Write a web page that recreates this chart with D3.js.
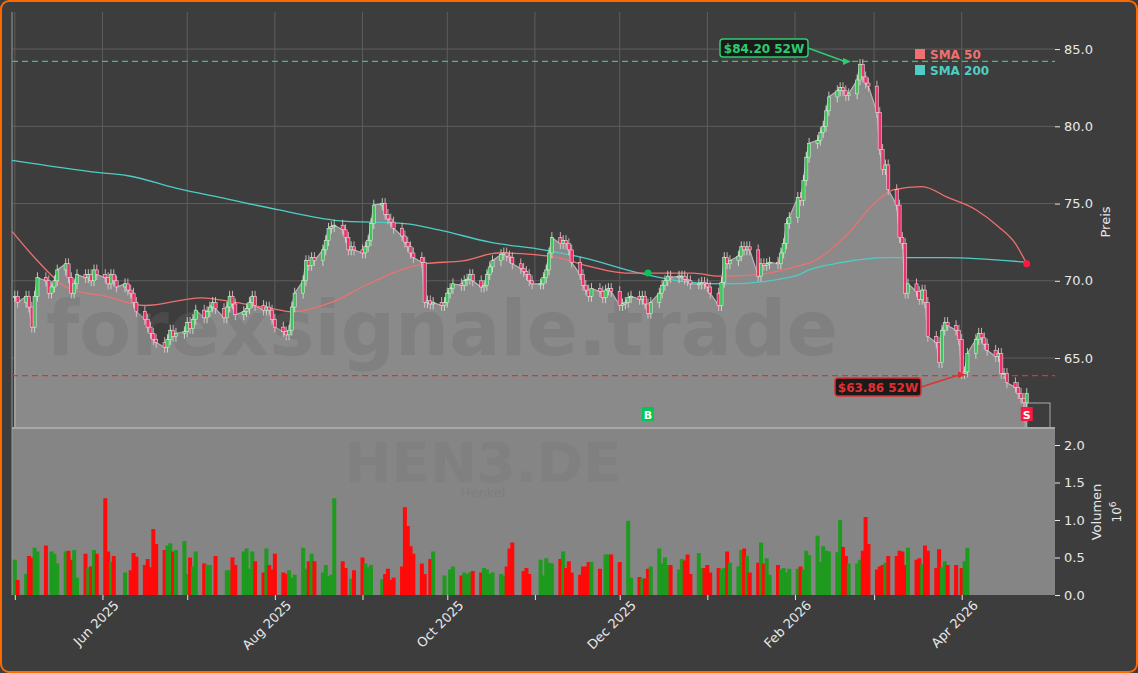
<!DOCTYPE html>
<html><head><meta charset="utf-8">
<script src="https://cdn.jsdelivr.net/npm/d3@7"></script>
<style>body{margin:0;background:#3c3c3c;font-family:"DejaVu Sans",sans-serif}</style>
</head><body><svg id="c" width="1138" height="673"></svg>
<script>
// daily closes, May 2025 .. Apr 2026 (one line per month)
var closes = [
  69.0,68.6,69.0,68.3,67.0,69.0,70.2,70.0,69.2,69.6,70.0,70.7,71.1,70.2,69.2,69.8,70.4,70.2,70.4,70.0,70.7,70.4,
  70.2,69.8,70.4,70.0,69.6,69.8,69.4,69.2,68.6,68.0,67.5,67.0,66.6,66.2,66.0,65.7,66.2,66.8,66.4,66.6,66.7,
  67.3,66.9,67.5,68.1,67.6,68.0,68.3,68.6,68.2,67.6,68.3,69.0,68.5,67.8,68.0,68.2,68.6,69.0,68.4,68.1,68.3,68.1,67.5,
  67.0,66.7,66.5,66.8,68.3,69.2,70.0,71.3,71.0,71.5,71.3,72.0,72.6,73.4,73.5,73.6,73.3,72.8,72.0,72.2,72.0,
  71.8,72.2,72.6,73.7,74.9,75.0,74.3,74.0,73.8,73.4,72.9,72.5,72.2,71.8,71.5,71.2,68.6,68.7,68.5,68.6,68.4,68.6,
  69.2,69.5,69.8,69.7,70.0,70.1,70.4,70.0,69.6,69.7,70.4,70.9,71.3,71.7,71.8,71.6,71.5,71.1,70.8,70.6,70.4,70.0,69.8,
  69.8,70.2,70.7,71.8,72.8,72.4,72.6,72.4,72.0,71.2,70.4,69.7,69.4,69.0,69.5,69.3,68.9,69.4,69.5,69.3,
  68.4,68.5,68.6,68.9,69.0,68.8,69.0,68.5,67.9,68.6,69.2,69.7,70.0,70.3,70.2,70.3,70.3,70.1,70.0,69.8,69.8,69.9,69.8,
  69.6,69.2,68.4,69.9,71.5,71.1,71.3,71.6,72.2,72.0,72.2,72.0,70.3,71.1,71.0,71.1,71.2,71.1,71.8,72.4,73.7,74.1,
  75.4,75.2,76.5,78.0,78.9,79.1,79.6,80.0,81.0,81.9,82.3,82.5,82.3,82.0,82.1,83.0,84.0,83.2,82.8,82.6,
  80.9,78.5,77.2,77.5,75.9,74.9,72.8,72.4,69.2,69.8,69.3,68.8,69.4,68.6,66.4,66.0,64.7,66.8,67.3,67.1,66.8,66.2,
  64.0,64.1,65.3,66.2,66.6,66.3,65.9,65.5,65.1,65.3,64.0,64.0,63.4,63.1,62.7,62.4,62.1,62.7
];
// daily volume in millions
var volumes = [
  0.47,0.20,0.28,0.52,0.50,0.63,0.58,0.66,0.00,0.58,0.55,0.42,0.58,0.59,0.47,0.60,0.23,0.55,0.37,0.38,0.60,0.55,
  1.29,0.58,0.44,0.52,0.00,0.30,0.00,0.33,0.56,0.51,0.40,0.48,0.37,0.88,0.68,0.60,0.66,0.69,0.58,0.60,0.72,
  0.28,0.50,0.38,0.58,0.42,0.40,0.40,0.00,0.52,0.00,0.33,0.33,0.50,0.40,0.58,0.62,0.35,0.58,0.45,0.30,0.62,0.40,0.34,0.55,
  0.30,0.28,0.33,0.23,0.27,0.63,0.35,0.45,0.55,0.45,0.30,0.40,0.25,0.27,1.29,0.45,0.36,0.00,0.22,0.33,0.50,
  0.42,0.37,0.40,0.00,0.21,0.28,0.35,0.20,0.23,0.38,1.17,0.92,0.65,0.55,0.42,0.28,0.00,0.48,0.58,0.00,0.26,0.00,
  0.34,0.38,0.26,0.30,0.28,0.30,0.32,0.30,0.36,0.34,0.28,0.30,0.28,0.26,0.38,0.62,0.70,0.00,0.32,0.36,0.28,0.00,0.47,
  0.26,0.49,0.43,0.42,0.48,0.58,0.36,0.45,0.30,0.27,0.38,0.38,0.44,0.44,0.35,0.00,0.54,0.54,0.54,0.44,
  0.00,0.00,0.99,0.23,0.24,0.22,0.22,0.35,0.38,0.62,0.42,0.50,0.40,0.40,0.34,0.48,0.46,0.54,0.28,0.56,0.36,0.36,0.40,
  0.30,0.36,0.34,0.36,0.58,0.43,0.38,0.60,0.62,0.52,0.30,0.43,0.70,0.42,0.49,0.27,0.40,0.34,0.36,0.30,0.35,0.35,
  0.38,0.34,0.59,0.53,0.79,0.44,0.65,0.59,0.58,0.57,1.00,0.64,0.52,0.42,0.42,0.47,0.59,1.04,0.68,0.34,0.38,0.40,
  0.43,0.52,0.52,0.59,0.58,0.40,0.63,0.47,0.49,0.41,0.66,0.59,0.36,0.61,0.37,0.45,0.40,0.40,
  0.00,0.36,0.45,0.63
];
var sma50 = [
  ['2025-04-30',73.2],['2025-05-09',71.3],['2025-05-20',69.5],['2025-06-02',69.0],['2025-06-16',68.4],
  ['2025-07-06',68.9],['2025-07-18',68.6],['2025-07-31',68.2],['2025-08-07',68.0],['2025-08-21',68.6],
  ['2025-09-01',69.6],['2025-09-13',70.6],['2025-09-23',71.1],['2025-10-07',71.3],['2025-10-19',71.8],
  ['2025-11-01',71.7],['2025-11-09',71.5],['2025-11-21',70.9],['2025-12-03',70.5],['2025-12-27',70.5],
  ['2026-01-05',70.3],['2026-01-19',70.4],['2026-02-01',70.9],['2026-02-08',71.3],['2026-02-20',73.1],
  ['2026-03-01',75.0],['2026-03-08',75.9],['2026-03-18',76.1],['2026-03-27',75.4],['2026-04-06',74.6],
  ['2026-04-14',73.5],['2026-04-20',72.4],['2026-04-24',71.1]
];
var sma200 = [
  ['2025-04-30',77.8],['2025-05-31',77.0],['2025-06-10',76.8],['2025-06-27',76.0],['2025-07-15',75.3],
  ['2025-08-02',74.6],['2025-08-23',73.9],['2025-09-16',73.7],['2025-09-28',73.3],['2025-10-16',72.5],
  ['2025-11-04',72.0],['2025-11-18',71.5],['2025-12-08',70.5],['2025-12-26',69.9],['2026-01-08',69.8],
  ['2026-02-01',70.3],['2026-02-06',70.7],['2026-02-18',71.2],['2026-03-05',71.5],['2026-03-26',71.5],
  ['2026-04-24',71.2]
];
var priceTicks = [65, 70, 75, 80, 85];
var volTicks = [0, 0.5, 1, 1.5, 2];
var high52 = 84.20, low52 = 63.86;

var parse = d3.timeParse('%Y-%m-%d');
var days = d3.timeDay.range(new Date(2025, 4, 1), new Date(2026, 3, 25))
  .filter(function(d){ return d.getDay() !== 0 && d.getDay() !== 6; });
var data = days.map(function(d, i){
  var c = closes[i], o = i ? closes[i-1] : c;
  return { date: d, o: o, c: c, h: Math.max(o, c) + 0.35, l: Math.min(o, c) - 0.35, v: volumes[i] || 0 };
});

var svg = d3.select('#c'),
    L = 12, R = 1055, T = 12, PB = 428, VB = 595;
var x = d3.scaleTime().domain([new Date(2025, 3, 30), new Date(2026, 4, 4)]).range([L, R]);
var y = d3.scaleLinear().domain([60.47, 87.4]).range([PB, T]);
var yv = d3.scaleLinear().domain([0, 2]).range([VB, VB - 150]);

svg.append('rect').attr('x', 1).attr('y', 1).attr('width', 1136).attr('height', 671)
  .attr('rx', 8).attr('fill', '#3d3d3d').attr('stroke', '#ff6a00').attr('stroke-width', 2);
svg.append('rect').attr('x', L).attr('y', PB).attr('width', R - L).attr('height', VB - PB).attr('fill', '#858585');

var months = d3.timeMonth.range(new Date(2025, 4, 1), new Date(2026, 4, 1));
var grid = svg.append('g').attr('stroke', '#5e5e5e').attr('stroke-width', 1);
months.forEach(function(m){
  grid.append('line').attr('x1', x(m)).attr('x2', x(m)).attr('y1', T).attr('y2', PB);
});
priceTicks.forEach(function(p){
  grid.append('line').attr('x1', L).attr('x2', R).attr('y1', y(p)).attr('y2', y(p));
});

// price area
svg.append('path').datum(data)
  .attr('d', d3.area().x(function(d){ return x(d.date); }).y0(PB).y1(function(d){ return y(d.c); }))
  .attr('fill', '#8a8a8a').attr('stroke', '#b5b5b5').attr('stroke-width', 1.2);

// watermarks
svg.append('text').attr('x', 442).attr('y', 355).attr('text-anchor', 'middle')
  .attr('font-size', 76).attr('font-weight', 'bold').attr('fill', '#6a6a6a').attr('opacity', 0.3)
  .text('forexsignale.trade');
svg.append('text').attr('x', 483).attr('y', 482).attr('text-anchor', 'middle')
  .attr('font-size', 56).attr('font-weight', 'bold').attr('fill', '#7a7a7a').attr('opacity', 0.45).text('HEN3.DE');
svg.append('text').attr('x', 483).attr('y', 497).attr('text-anchor', 'middle')
  .attr('font-size', 13).attr('fill', '#7a7a7a').attr('opacity', 0.6).text('Henkel');

svg.append('line').attr('x1', L).attr('x2', R).attr('y1', PB).attr('y2', PB).attr('stroke', '#a8a8a8').attr('stroke-width', 2);
svg.append('line').attr('x1', L).attr('x2', L).attr('y1', T).attr('y2', VB).attr('stroke', '#9a9a9a');
svg.append('rect').attr('x', 1025).attr('y', 403).attr('width', 25).attr('height', 25)
  .attr('fill', 'none').attr('stroke', '#aaa');

// 52w lines
svg.append('line').attr('x1', L).attr('x2', R).attr('y1', y(high52)).attr('y2', y(high52))
  .attr('stroke', '#2ecc71').attr('stroke-dasharray', '6,4').attr('stroke-width', 1.3);
svg.append('line').attr('x1', L).attr('x2', R).attr('y1', y(low52)).attr('y2', y(low52))
  .attr('stroke', '#e03030').attr('stroke-dasharray', '6,4').attr('stroke-width', 1.3);

// SMA lines
var smaLine = d3.line().curve(d3.curveMonotoneX)
  .x(function(d){ return x(parse(d[0])); }).y(function(d){ return y(d[1]); });
svg.append('path').attr('d', smaLine(sma200)).attr('fill', 'none').attr('stroke', '#4ecdc4').attr('stroke-width', 1.3);
svg.append('path').attr('d', smaLine(sma50)).attr('fill', 'none').attr('stroke', '#f07070').attr('stroke-width', 1.3);

// candles
var bw = 3.2;
var cg = svg.append('g');
data.forEach(function(d){
  var up = d.c >= d.o, cx = x(d.date);
  cg.append('line').attr('x1', cx).attr('x2', cx).attr('y1', y(d.h)).attr('y2', y(d.l))
    .attr('stroke', up ? '#d8ecd8' : '#f0c8d0').attr('stroke-width', 0.8);
  cg.append('rect').attr('x', cx - bw / 2).attr('width', bw)
    .attr('y', y(Math.max(d.o, d.c))).attr('height', Math.max(1, Math.abs(y(d.o) - y(d.c))))
    .attr('fill', up ? '#3fc35a' : '#e8336b').attr('stroke', '#eee').attr('stroke-width', 0.5);
});

// volume
svg.append('g').selectAll('rect').data(data).join('rect')
  .attr('x', function(d){ return x(d.date) - 2; }).attr('width', 4)
  .attr('y', function(d){ return yv(d.v); }).attr('height', function(d){ return VB - yv(d.v); })
  .attr('fill', function(d){ return d.c >= d.o ? '#1e9a1e' : '#ff0a0a'; });

// markers
var bDay = new Date(2025, 11, 11), sDay = days[days.length - 1];
svg.append('circle').attr('cx', x(bDay)).attr('cy', y(70.5)).attr('r', 3.5).attr('fill', '#00c853');
svg.append('circle').attr('cx', x(sDay)).attr('cy', y(sma50[sma50.length - 1][1])).attr('r', 3.5).attr('fill', '#ff1744');
[[bDay, 'B', '#00c853'], [sDay, 'S', '#ff1744']].forEach(function(m){
  var g = svg.append('g').attr('transform', 'translate(' + x(m[0]) + ',414)');
  g.append('rect').attr('x', -6).attr('y', -7).attr('width', 12).attr('height', 14).attr('fill', m[2]);
  g.append('text').attr('y', 4.5).attr('text-anchor', 'middle').attr('font-size', 11).attr('font-weight', 'bold')
    .attr('fill', '#fff').text(m[1]);
});

// 52w labels
function tag(bx, by, w, txt, col, tx, ty){
  svg.append('line').attr('x1', bx + w).attr('y1', by + 9).attr('x2', tx - 6).attr('y2', ty)
    .attr('stroke', col).attr('stroke-width', 1.5);
  svg.append('path').attr('d', 'M' + tx + ',' + ty + 'l-8,-3.5l0,7z').attr('fill', col);
  svg.append('rect').attr('x', bx).attr('y', by).attr('width', w).attr('height', 18).attr('rx', 3)
    .attr('fill', '#1a1a1a').attr('stroke', col).attr('stroke-width', 1.5);
  svg.append('text').attr('x', bx + w / 2).attr('y', by + 13.5).attr('text-anchor', 'middle')
    .attr('font-size', 12).attr('font-weight', 'bold').attr('fill', col).text(txt);
}
tag(720, 39, 88, '$' + high52.toFixed(2) + ' 52W', '#2ecc71', 851, y(high52));
tag(835, 378, 86, '$' + low52.toFixed(2) + ' 52W', '#e03030', 966, y(low52) - 1);

// legend
[['SMA 50', '#f07070', 54], ['SMA 200', '#4ecdc4', 70]].forEach(function(l){
  svg.append('rect').attr('x', 915).attr('y', l[2] - 5).attr('width', 10).attr('height', 10).attr('fill', l[1]);
  svg.append('text').attr('x', 930).attr('y', l[2] + 4.5).attr('font-size', 12).attr('font-weight', 'bold')
    .attr('fill', l[1]).text(l[0]);
});

// axes
var axisCol = '#e8e8e8';
function styleAxis(g){
  g.select('.domain').remove();
  g.selectAll('line').attr('stroke', axisCol);
  g.selectAll('text').attr('fill', axisCol).attr('font-size', 13).attr('font-family', '"DejaVu Sans",sans-serif');
}
svg.append('g').attr('transform', 'translate(' + R + ',0)')
  .call(d3.axisRight(y).tickValues(priceTicks).tickFormat(d3.format('.1f')).tickSize(5).tickPadding(4)).call(styleAxis);
svg.append('g').attr('transform', 'translate(' + R + ',0)')
  .call(d3.axisRight(yv).tickValues(volTicks).tickFormat(d3.format('.1f')).tickSize(5).tickPadding(4)).call(styleAxis);
var xa = svg.append('g').attr('transform', 'translate(0,' + VB + ')')
  .call(d3.axisBottom(x).tickValues(months).tickSize(5)
    .tickFormat(function(d){ return d.getMonth() % 2 === 1 ? d3.timeFormat('%b %Y')(d) : ''; }))
  .call(styleAxis);
xa.selectAll('text').attr('text-anchor', 'end').attr('dx', '0.3em').attr('dy', '0.9em')
  .attr('transform', 'rotate(-45)');

svg.append('text').attr('transform', 'translate(1110,222) rotate(-90)').attr('text-anchor', 'middle')
  .attr('font-size', 13).attr('fill', axisCol).text('Preis');
svg.append('text').attr('transform', 'translate(1101,512) rotate(-90)').attr('text-anchor', 'middle')
  .attr('font-size', 13).attr('fill', axisCol).text('Volumen');
svg.append('text').attr('transform', 'translate(1121,512) rotate(-90)').attr('text-anchor', 'middle')
  .attr('font-size', 12).attr('fill', axisCol).html('10<tspan dy="-5" font-size="9">6</tspan>');
</script></body></html>
